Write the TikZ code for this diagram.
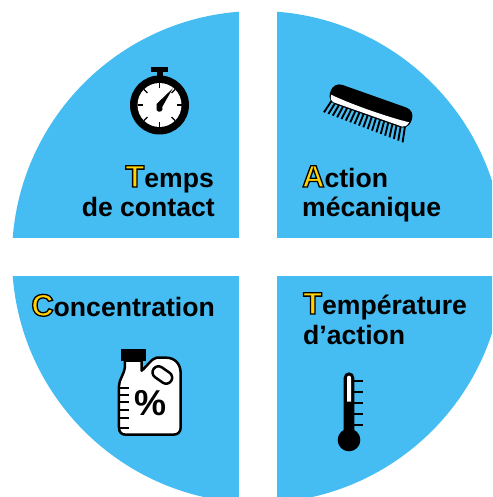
\documentclass[tikz,border=0pt]{standalone}
\usepackage{fontspec}
\usetikzlibrary{calc}
\setmainfont{Liberation Sans}[BoldFont={Liberation Sans Bold}]
\definecolor{quad}{HTML}{45BDF2}
\newcommand{\capl}[1]{{\fontsize{31}{31}\selectfont\special{pdf:code q 2 Tr 1.3 w 1 0.824 0 rg 0 0 0 RG}#1\special{pdf:code Q}}}
\tikzset{
  sector/.style={fill=quad,draw=none},
  lab/.style={inner sep=0pt,font=\fontsize{26.6}{26.6}\selectfont\bfseries,text=black},
  tick/.style={draw=black,line width=1.7pt},
  fat/.style={draw=black,line width=2.5pt,line join=round}
}
\begin{document}
\begin{tikzpicture}[x=1pt,y=-1pt]
\useasboundingbox (0,0) rectangle (492,497);
\fill[white] (0,0) rectangle (492,497);
\begin{scope}
\clip (0,0) rectangle (492,497);
\clip (258,257) circle[radius=246];
\fill[sector] (0,0) rectangle (239,238);
\fill[sector] (277,0) rectangle (520,238);
\fill[sector] (0,276) rectangle (239,520);
\fill[sector] (277,276) rectangle (520,520);
\end{scope}
% stopwatch
\fill[black] (151,67) rectangle (168,72);
\fill[black] (157,71) rectangle (163,80);
\fill[black] (159.5,105) circle[radius=29.5];
\fill[white] (159.5,105) circle[radius=22];
\foreach \a in {0,45,...,315}
  \draw[black,line width=1.3pt] ($(159.5,105)+(\a:22)$) -- ($(159.5,105)+(\a:17)$);
\fill[black] (172.7,88.5) -- (162.2,107) arc[start angle=-30,end angle=210,radius=3.2] -- (156.5,104) -- cycle;
% brush
\begin{scope}[shift={(290,70)},x=0.3333pt,y=-0.3333pt]
\foreach \i in {0,...,18}{
  \pgfmathsetmacro{\bx}{125+\i*12.2}
  \pgfmathsetmacro{\by}{92+\i*4.4}
  \pgfmathsetmacro{\ex}{102+\i*13.1}
  \pgfmathsetmacro{\ey}{127+\i*5.0}
  \draw[black,line width=1.9pt] (\bx,\by) -- (\ex,\ey);
}
\fill[black,rotate around={-19.5:(243,108)},rounded corners=9pt] (114,77) -- (372,77) -- (372,139) -- (114,139) -- cycle;
\fill[white,rotate around={-19.5:(243,108)}] (119,116) .. controls (180,123) and (300,123) .. (367,116) .. controls (365,128) and (360,134) .. (352,135) -- (132,135) .. controls (124,134) and (121,128) .. (119,116) -- cycle;
\end{scope}
% jug
\begin{scope}[shift={(90,340)},x=0.3333pt,y=-0.3333pt]
\draw[fat,fill=white] (105,62) -- (105,80) .. controls (102,105) and (87,118) .. (87,138) -- (87,262) .. controls (87,278) and (95,284) .. (108,284) -- (250,284) .. controls (265,284) and (272,275) .. (272,262) -- (272,100) .. controls (272,72) and (255,53) .. (228,53) -- (200,53) .. controls (185,55) and (170,80) .. (155,92) -- (155,62) -- cycle;
\fill[black] (93,28) rectangle (167,62);
\draw[fat,rotate around={-35:(217,105)},rounded corners=6pt] (185,87) rectangle (249,123);
\foreach \yy in {143,165,187,210,235,265}
  \draw[tick] (90,\yy) -- (116,\yy);
\node[inner sep=0pt,font=\fontsize{36}{36}\selectfont\bfseries] (pct) at (181,188) {\%};
\end{scope}
% thermometer
\begin{scope}[shift={(295,285)},x=0.3333pt,y=-0.3333pt]
\foreach \yy in {287,320,353,386,419}
  \draw[black,line width=2pt] (175,\yy) -- (203,\yy);
\fill[black] (146,440) -- (146,278) arc[start angle=180,end angle=0,x radius=16,y radius=-16] -- (178,440) -- cycle;
\fill[black] (162,465) circle[x radius=34,y radius=-34];
\fill[white] (156,350) -- (156,278) arc[start angle=180,end angle=0,x radius=6,y radius=-6] -- (168,350) -- cycle;
\end{scope}
% labels
\node[lab,anchor=base east] (t1) at (214,187) {\capl{T}emps};
\node[lab,anchor=base east] (t2) at (215,216) {de contact};
\node[lab,anchor=base west] (a1) at (302,187) {\capl{A}ction};
\node[lab,anchor=base west] (a2) at (302,216) {mécanique};
\node[lab,anchor=base east] (c1) at (215,316) {\capl{C}oncentration};
\node[lab,anchor=base west] (p1) at (303,314) {\capl{T}empérature};
\node[lab,anchor=base west] (p2) at (303,344) {d’action};
\end{tikzpicture}
\end{document}
